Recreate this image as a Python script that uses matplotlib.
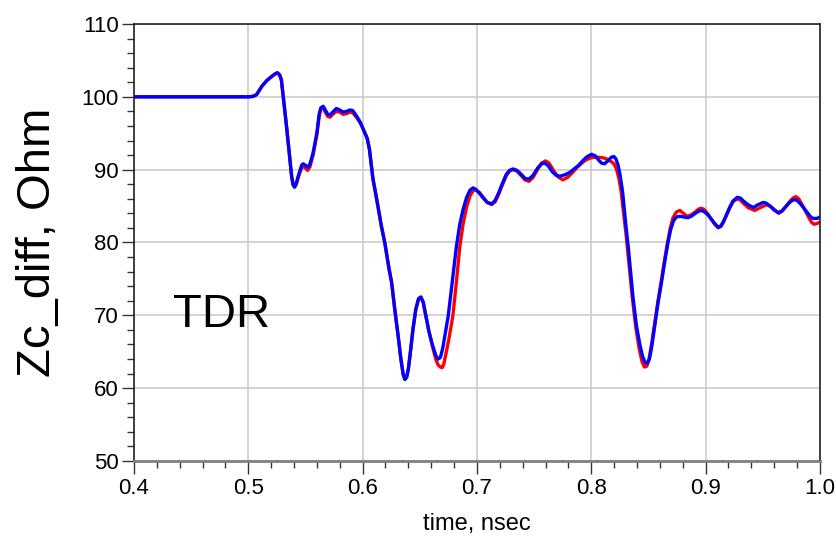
import matplotlib
matplotlib.use("Agg")
import matplotlib.pyplot as plt
from matplotlib.ticker import MultipleLocator

plt.rcParams['font.family'] = ['Liberation Sans', 'DejaVu Sans']

# blue trace
t_blue = [0.400, 0.500, 0.504, 0.5073, 0.5117, 0.516, 0.5205, 0.5235, 0.5255, 0.5275,
          0.529, 0.5306, 0.5335, 0.5365, 0.538, 0.5393, 0.5405, 0.542, 0.5435, 0.5467,
          0.548, 0.550, 0.552, 0.554, 0.5567, 0.560, 0.562, 0.5635, 0.5655, 0.567,
          0.5695, 0.5715, 0.574, 0.577, 0.580, 0.583, 0.586, 0.589, 0.5915, 0.595,
          0.598, 0.601, 0.604, 0.606, 0.609, 0.6125, 0.6165, 0.6195, 0.623, 0.6254,
          0.628, 0.631, 0.6335, 0.6355, 0.637, 0.6385, 0.640, 0.642, 0.644, 0.6465,
          0.649, 0.651, 0.653, 0.655, 0.658, 0.661, 0.664, 0.666, 0.668, 0.670,
          0.672, 0.6748, 0.678, 0.682, 0.685, 0.688, 0.691, 0.694, 0.6966, 0.699,
          0.702, 0.705, 0.709, 0.713, 0.716, 0.719, 0.722, 0.7255, 0.7285, 0.7316,
          0.735, 0.7385, 0.742, 0.7455, 0.749, 0.753, 0.7565, 0.7595, 0.7625, 0.766,
          0.7695, 0.7727, 0.777, 0.781, 0.785, 0.789, 0.793, 0.7965, 0.8003, 0.8035,
          0.8065, 0.809, 0.8115, 0.8145, 0.8175, 0.8198, 0.8215, 0.8235, 0.8255, 0.8275,
          0.830, 0.8324, 0.8365, 0.8395, 0.8426, 0.845, 0.8472, 0.8492, 0.851, 0.853,
          0.8557, 0.8585, 0.8615, 0.8645, 0.867, 0.8695, 0.872, 0.8745, 0.8776, 0.881,
          0.8846, 0.8875, 0.891, 0.894, 0.8965, 0.899, 0.902, 0.905, 0.908, 0.911,
          0.9135, 0.916, 0.9185, 0.921, 0.924, 0.9277, 0.9305, 0.933, 0.937, 0.9417,
          0.946, 0.9504, 0.953, 0.9565, 0.960, 0.9636, 0.9665, 0.970, 0.9735, 0.976,
          0.978, 0.9805, 0.983, 0.986, 0.989, 0.992, 0.9942, 0.9975, 1.000]
z_blue = [100.0, 100.0, 100.05, 100.3, 101.4, 102.2, 102.8, 103.15, 103.3, 103.0,
          102.3, 100.0, 95.9, 91.3, 89.0, 87.9, 87.6, 88.1, 89.0, 90.6,
          90.8, 90.6, 90.3, 90.8, 92.3, 95.0, 97.6, 98.5, 98.7, 98.3,
          97.6, 97.5, 97.9, 98.4, 98.2, 97.9, 98.0, 98.2, 98.1, 97.3,
          96.5, 95.4, 94.3, 92.8, 88.8, 85.8, 82.2, 79.9, 76.5, 74.5,
          71.0, 67.3, 64.0, 61.9, 61.2, 61.5, 62.6, 65.2, 68.0, 70.8,
          72.3, 72.5, 71.8, 70.2, 67.8, 66.0, 64.5, 64.0, 64.2, 65.4,
          67.2, 69.8, 74.0, 79.4, 82.5, 84.6, 86.2, 87.2, 87.5, 87.3,
          86.8, 86.2, 85.5, 85.3, 85.8, 86.8, 88.0, 89.3, 89.9, 90.1,
          89.9, 89.4, 88.8, 88.7, 89.2, 90.2, 90.8, 90.9, 90.5, 89.7,
          89.2, 89.1, 89.3, 89.6, 90.1, 90.6, 91.3, 91.8, 92.1, 91.9,
          91.3, 90.9, 90.8, 91.2, 91.7, 91.8, 91.5, 90.6, 89.0, 86.8,
          82.8, 79.3, 72.5, 68.6, 65.9, 64.3, 63.5, 63.4, 64.1, 65.8,
          68.7, 71.8, 74.6, 77.6, 79.9, 81.8, 83.0, 83.5, 83.6, 83.5,
          83.4, 83.6, 84.0, 84.3, 84.4, 84.2, 83.8, 83.2, 82.6, 82.1,
          82.3, 83.0, 83.9, 84.8, 85.7, 86.2, 86.1, 85.7, 85.2, 84.8,
          85.2, 85.5, 85.4, 85.0, 84.5, 84.1, 84.3, 84.9, 85.5, 85.8,
          85.9, 85.7, 85.3, 84.7, 84.1, 83.5, 83.3, 83.3, 83.5]

# red trace
t_red = [0.400, 0.500, 0.504, 0.5073, 0.5117, 0.516, 0.5205, 0.5235, 0.5255, 0.5275,
         0.529, 0.5306, 0.5335, 0.5365, 0.538, 0.5393, 0.5405, 0.542, 0.5435, 0.5467,
         0.548, 0.550, 0.552, 0.554, 0.5567, 0.560, 0.562, 0.5635, 0.5655, 0.567,
         0.5695, 0.5715, 0.574, 0.577, 0.580, 0.583, 0.586, 0.589, 0.5915, 0.595,
         0.598, 0.601, 0.604, 0.606, 0.609, 0.6125, 0.6165, 0.6195, 0.623, 0.6254,
         0.628, 0.631, 0.6335, 0.6355, 0.637, 0.6385, 0.640, 0.642, 0.644, 0.6465,
         0.649, 0.651, 0.653, 0.655, 0.658, 0.661, 0.664, 0.666, 0.668, 0.6695,
         0.671, 0.673, 0.676, 0.679, 0.682, 0.685, 0.688, 0.691, 0.694, 0.6966,
         0.699, 0.702, 0.705, 0.709, 0.713, 0.716, 0.719, 0.722, 0.7255, 0.7285,
         0.7316, 0.735, 0.7385, 0.742, 0.7455, 0.749, 0.753, 0.7565, 0.760, 0.763,
         0.767, 0.771, 0.775, 0.779, 0.783, 0.787, 0.791, 0.795, 0.799, 0.803,
         0.807, 0.811, 0.8145, 0.8175, 0.8198, 0.822, 0.824, 0.826, 0.828, 0.8305,
         0.833, 0.836, 0.839, 0.842, 0.8445, 0.8465, 0.8485, 0.8505, 0.8525, 0.855,
         0.858, 0.861, 0.864, 0.8665, 0.869, 0.8715, 0.8745, 0.8776, 0.8805, 0.884,
         0.8875, 0.891, 0.894, 0.8965, 0.899, 0.902, 0.905, 0.908, 0.911, 0.9135,
         0.916, 0.9185, 0.921, 0.924, 0.9277, 0.9305, 0.933, 0.937, 0.943, 0.948,
         0.9534, 0.957, 0.9605, 0.964, 0.967, 0.9705, 0.974, 0.9765, 0.979, 0.9815,
         0.984, 0.987, 0.990, 0.9925, 0.9948, 0.9975, 1.000]
z_red = [100.0, 100.0, 100.05, 100.3, 101.4, 102.2, 102.8, 103.15, 103.3, 103.0,
         102.3, 100.0, 95.9, 91.3, 89.0, 87.9, 87.6, 88.0, 88.8, 90.3,
         90.5, 90.2, 89.9, 90.4, 92.0, 94.8, 97.3, 98.3, 98.5, 98.0,
         97.3, 97.2, 97.6, 98.0, 97.9, 97.6, 97.7, 97.9, 97.8, 97.1,
         96.4, 95.4, 94.3, 92.8, 88.8, 85.8, 82.2, 79.9, 76.5, 74.5,
         71.0, 67.3, 64.0, 61.9, 61.2, 61.5, 62.6, 65.2, 68.0, 70.8,
         72.3, 72.5, 71.8, 70.2, 67.8, 65.8, 64.0, 63.2, 62.9, 62.8,
         63.3, 64.8, 67.2, 70.0, 74.5, 79.4, 82.6, 84.9, 86.4, 87.1,
         87.2, 86.9, 86.3, 85.5, 85.2, 85.6, 86.6, 87.8, 89.1, 89.8,
         90.0, 89.8, 89.2, 88.6, 88.4, 88.9, 90.0, 90.9, 91.2, 90.9,
         89.9, 89.0, 88.6, 88.9, 89.5, 90.2, 90.8, 91.3, 91.6, 91.7,
         91.7, 91.6, 91.4, 91.1, 90.8, 90.1, 88.9, 87.2, 84.5, 81.0,
         77.0, 72.3, 68.3, 65.3, 63.6, 62.9, 63.0, 64.0, 65.8, 68.4,
         71.6, 74.5, 77.5, 79.8, 81.9, 83.4, 84.2, 84.4, 84.0, 83.6,
         83.8, 84.2, 84.6, 84.7, 84.5, 83.9, 83.2, 82.5, 82.0, 82.2,
         82.9, 83.8, 84.7, 85.6, 86.0, 85.8, 85.4, 84.8, 84.4, 84.8,
         85.2, 84.9, 84.4, 84.0, 84.3, 85.0, 85.7, 86.1, 86.3, 86.0,
         85.3, 84.4, 83.5, 82.8, 82.5, 82.6, 82.8]

x_ticks = [0.4, 0.5, 0.6, 0.7, 0.8, 0.9, 1.0]
x_labels = ['0.4', '0.5', '0.6', '0.7', '0.8', '0.9', '1.0']
y_ticks = [50, 60, 70, 80, 90, 100, 110]

fig = plt.figure(figsize=(8.37, 5.40), dpi=100)
ax = fig.add_axes([0.160, 0.1463, 0.8196, 0.8093])

ax.plot(t_red, z_red, color='#ff0000', lw=2.4, solid_joinstyle='round')
ax.plot(t_blue, z_blue, color='#0000ff', lw=2.4, solid_joinstyle='round')

ax.set_xlim(0.4, 1.0)
ax.set_ylim(50, 110)
ax.set_xticks(x_ticks)
ax.set_yticks(y_ticks)
ax.set_xticklabels(x_labels)
ax.xaxis.set_minor_locator(MultipleLocator(0.02))
ax.yaxis.set_minor_locator(MultipleLocator(2))

ax.grid(True, which='major', color='#c8c8c8', lw=1.1)
ax.set_axisbelow(True)

ax.tick_params(which='major', direction='out', length=9, width=1.0,
               color='#333333', labelsize=16, pad=2)
ax.tick_params(which='minor', direction='out', length=5, width=1.0,
               color='#333333')
ax.tick_params(axis='x', which='major', pad=3)

for side in ['top', 'right', 'left']:
    ax.spines[side].set_color('#222222')
    ax.spines[side].set_linewidth(1.2)
ax.spines['bottom'].set_color('#808080')
ax.spines['bottom'].set_linewidth(2.0)

ax.set_xlabel('time, nsec', fontsize=17)
ax.xaxis.set_label_coords(0.5, -0.118)
ax.set_ylabel('Zc_diff, Ohm', fontsize=34, va='center')
ax.yaxis.set_label_coords(-0.140, 0.5)

ax.text(0.477, 70, 'TDR', fontsize=34, ha='center', va='center')

fig.savefig('out.png', dpi=100)
